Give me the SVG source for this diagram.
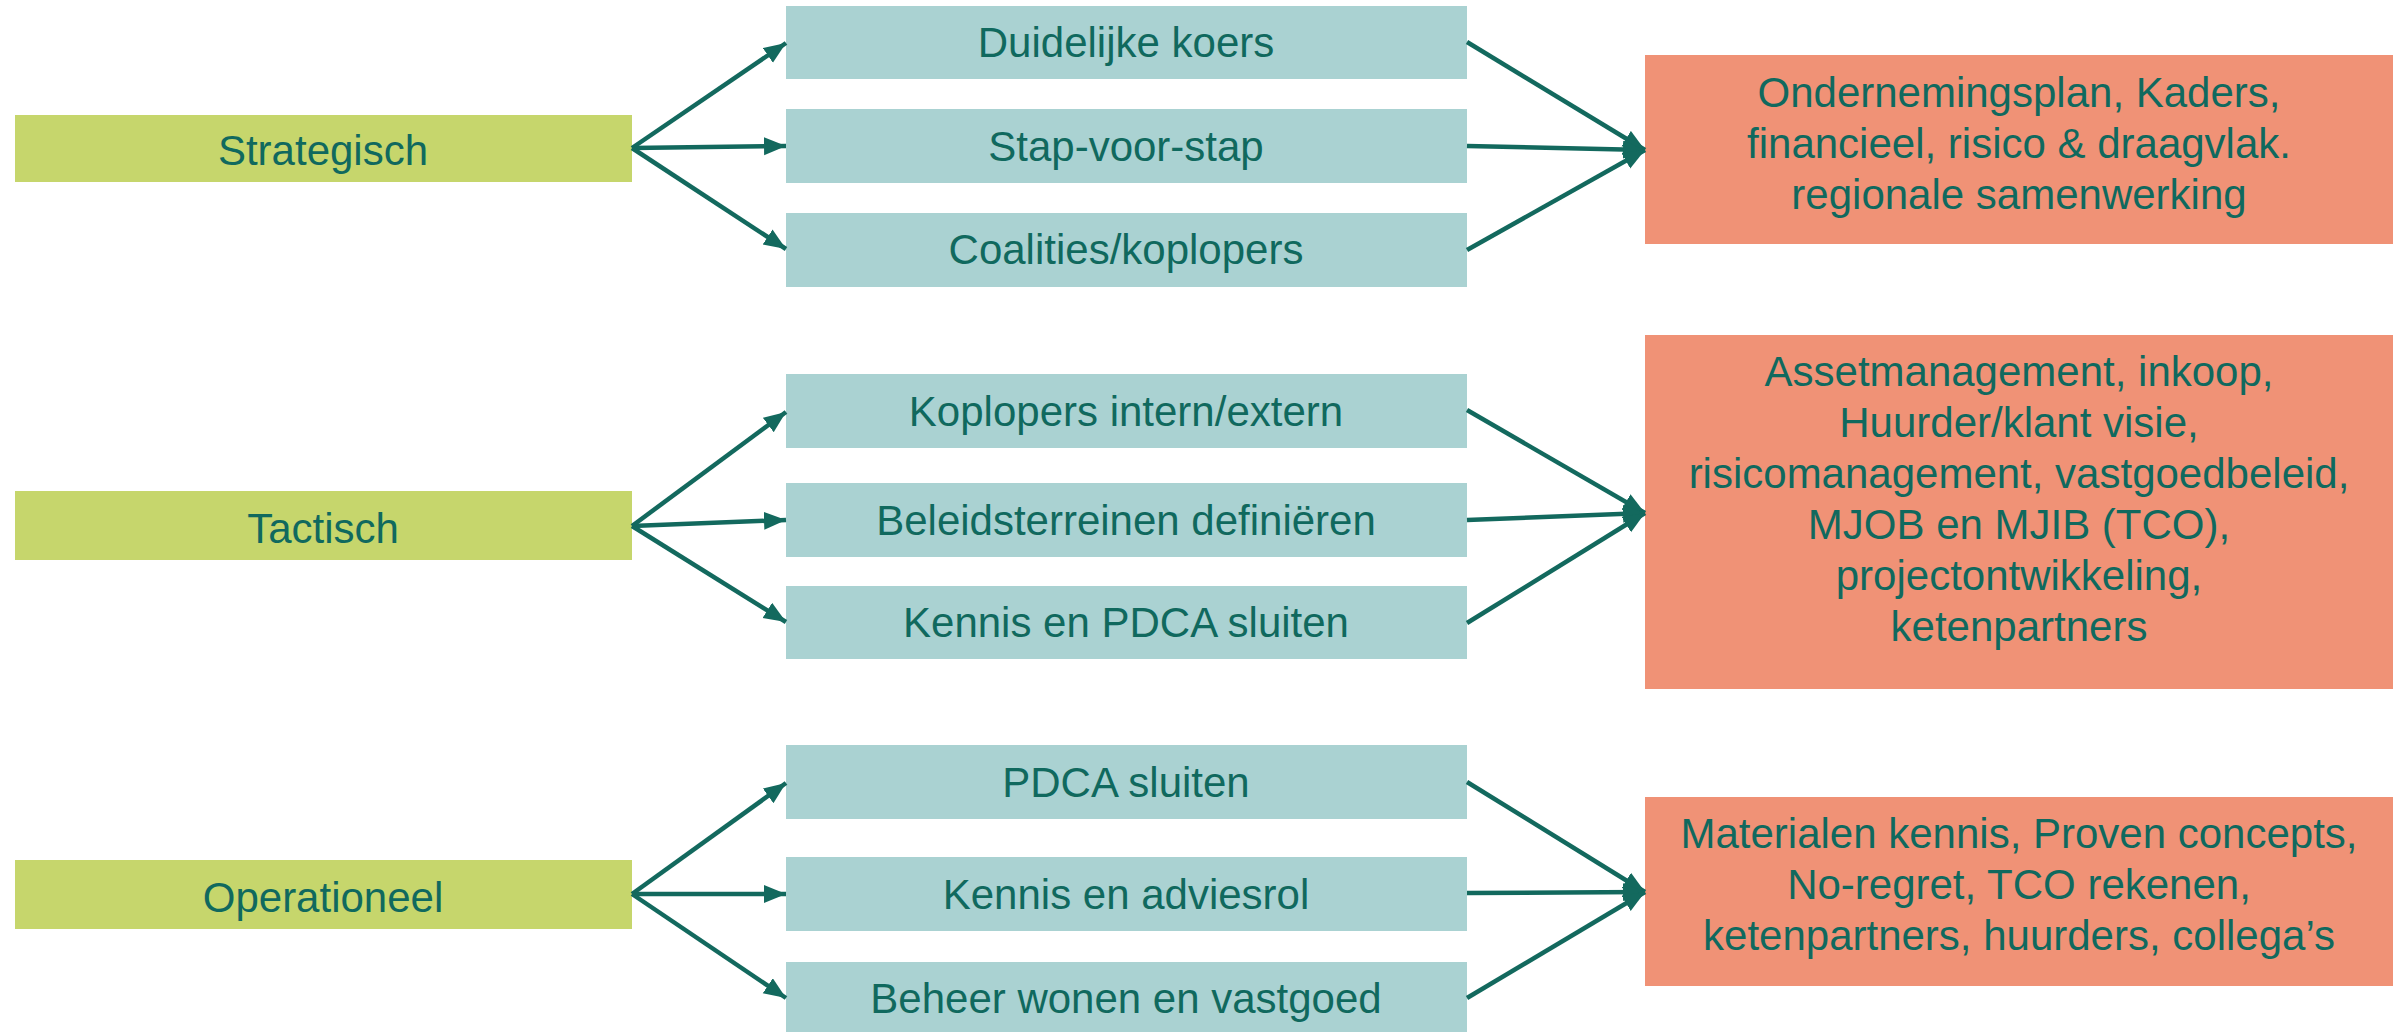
<svg xmlns="http://www.w3.org/2000/svg" width="2402" height="1032" viewBox="0 0 2402 1032">
<style>
text{font-family:"Liberation Sans",Arial,sans-serif;font-size:42px;fill:#10695E;text-anchor:middle}
.lvl{fill:#C6D66C}
.act{fill:#AAD2D2}
.res{fill:#F09276}
.con{stroke:#13695E;stroke-width:4.5;fill:none;marker-end:url(#ah)}
</style>
<defs>
<marker id="ah" markerUnits="userSpaceOnUse" markerWidth="24" markerHeight="20" refX="22" refY="9" orient="auto">
<path d="M0,0 L22,9 L0,18 z" fill="#13695E"/>
</marker>
</defs>
<rect width="2402" height="1032" fill="#FFFFFF"/>

<g id="strategisch"><rect class="lvl" x="15" y="115" width="617" height="67"/><text x="323" y="165">Strategisch</text></g>
<g id="tactisch"><rect class="lvl" x="15" y="491" width="617" height="69"/><text x="323" y="543">Tactisch</text></g>
<g id="operationeel"><rect class="lvl" x="15" y="860" width="617" height="69"/><text x="323" y="912">Operationeel</text></g>

<g id="duidelijke-koers"><rect class="act" x="786" y="6" width="681" height="73"/><text x="1126" y="57">Duidelijke koers</text></g>
<g id="stap-voor-stap"><rect class="act" x="786" y="109" width="681" height="74"/><text x="1126" y="161">Stap-voor-stap</text></g>
<g id="coalities"><rect class="act" x="786" y="213" width="681" height="74"/><text x="1126" y="264">Coalities/koplopers</text></g>

<g id="koplopers"><rect class="act" x="786" y="374" width="681" height="74"/><text x="1126" y="426">Koplopers intern/extern</text></g>
<g id="beleidsterreinen"><rect class="act" x="786" y="483" width="681" height="74"/><text x="1126" y="535">Beleidsterreinen definiëren</text></g>
<g id="kennis-pdca"><rect class="act" x="786" y="586" width="681" height="73"/><text x="1126" y="637">Kennis en PDCA sluiten</text></g>

<g id="pdca-sluiten"><rect class="act" x="786" y="745" width="681" height="74"/><text x="1126" y="797">PDCA sluiten</text></g>
<g id="kennis-adviesrol"><rect class="act" x="786" y="857" width="681" height="74"/><text x="1126" y="909">Kennis en adviesrol</text></g>
<g id="beheer"><rect class="act" x="786" y="962" width="681" height="70"/><text x="1126" y="1013">Beheer wonen en vastgoed</text></g>

<g id="resultaat-strategisch"><rect class="res" x="1645" y="55" width="748" height="189"/>
<text x="2019" y="107">Ondernemingsplan, Kaders,</text>
<text x="2019" y="158">financieel, risico &amp; draagvlak.</text>
<text x="2019" y="209">regionale samenwerking</text></g>

<g id="resultaat-tactisch"><rect class="res" x="1645" y="335" width="748" height="354"/>
<text x="2019" y="386">Assetmanagement, inkoop,</text>
<text x="2019" y="437">Huurder/klant visie,</text>
<text x="2019" y="488">risicomanagement, vastgoedbeleid,</text>
<text x="2019" y="539">MJOB en MJIB (TCO),</text>
<text x="2019" y="590">projectontwikkeling,</text>
<text x="2019" y="641">ketenpartners</text></g>

<g id="resultaat-operationeel"><rect class="res" x="1645" y="797" width="748" height="189"/>
<text x="2019" y="848">Materialen kennis, Proven concepts,</text>
<text x="2019" y="899">No-regret, TCO rekenen,</text>
<text x="2019" y="950">ketenpartners, huurders, collega’s</text></g>

<g id="connectors">
<line class="con" x1="632" y1="148" x2="786" y2="43"/>
<line class="con" x1="632" y1="148" x2="786" y2="146"/>
<line class="con" x1="632" y1="148" x2="786" y2="249"/>
<line class="con" x1="1467" y1="42" x2="1645" y2="150"/>
<line class="con" x1="1467" y1="146" x2="1645" y2="150"/>
<line class="con" x1="1467" y1="250" x2="1645" y2="150"/>

<line class="con" x1="632" y1="526" x2="786" y2="412"/>
<line class="con" x1="632" y1="526" x2="786" y2="520"/>
<line class="con" x1="632" y1="526" x2="786" y2="622"/>
<line class="con" x1="1467" y1="410" x2="1645" y2="513"/>
<line class="con" x1="1467" y1="520" x2="1645" y2="513"/>
<line class="con" x1="1467" y1="623" x2="1645" y2="513"/>

<line class="con" x1="632" y1="894" x2="786" y2="783"/>
<line class="con" x1="632" y1="894" x2="786" y2="894"/>
<line class="con" x1="632" y1="894" x2="786" y2="998"/>
<line class="con" x1="1467" y1="782" x2="1645" y2="892"/>
<line class="con" x1="1467" y1="893" x2="1645" y2="892"/>
<line class="con" x1="1467" y1="998" x2="1645" y2="892"/>
</g>
</svg>
